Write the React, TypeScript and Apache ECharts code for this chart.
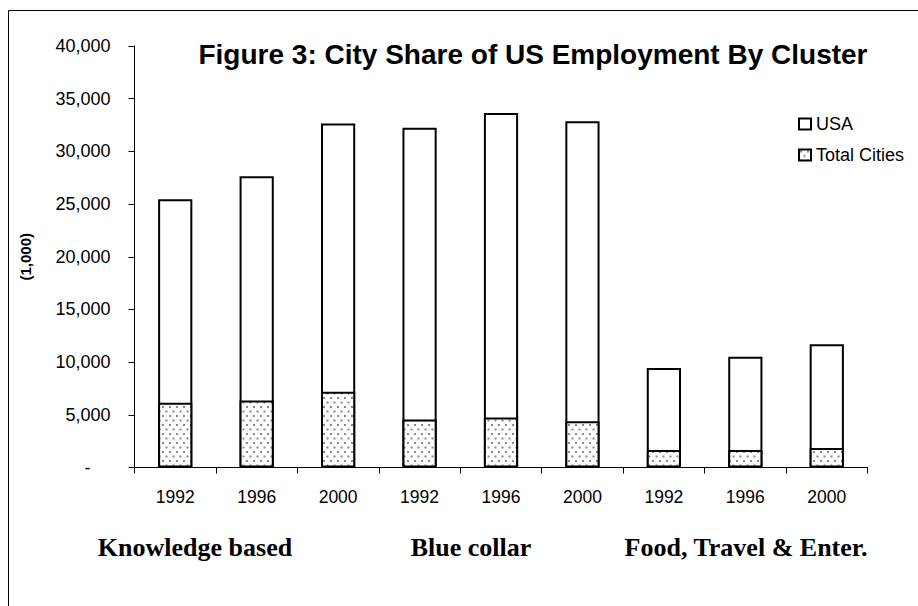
import React, { useEffect, useRef } from "react";
import * as echarts from "echarts";

const categories = ["1992", "1996", "2000", "1992", "1996", "2000", "1992", "1996", "2000"];
const usaValues = [25450, 27650, 32650, 32250, 33650, 32850, 9450, 10500, 11700];
const citiesValues = [6150, 6350, 7200, 4550, 4750, 4400, 1650, 1650, 1850];
const groupLabels = ["Knowledge based", "Blue collar", "Food, Travel & Enter."];
const seriesNames = ["USA", "Total Cities"];
const titleText = "Figure 3: City Share of US Employment By Cluster";
const yAxisName = "(1,000)";

function makeDots(): HTMLCanvasElement {
  const c = document.createElement("canvas");
  c.width = 7;
  c.height = 9;
  const ctx = c.getContext("2d")!;
  ctx.fillStyle = "#ffffff";
  ctx.fillRect(0, 0, 7, 9);
  ctx.fillStyle = "#8a8a8a";
  ctx.fillRect(1, 1, 2, 2);
  ctx.fillRect(4.5, 5.5, 2, 2);
  return c;
}

export default function App() {
  const ref = useRef<HTMLDivElement>(null);
  useEffect(() => {
    document.body.style.margin = "0";
    const chart = echarts.init(ref.current!, undefined, { renderer: "svg" });
    const dots = makeDots();
    const sans = "Liberation Sans";
    const groupX = [195, 471, 746];
    chart.setOption({
      animation: false,
      backgroundColor: "#ffffff",
      grid: { left: 134.5, right: 50.5, top: 46, bottom: 138.5, containLabel: false },
      legend: {
        orient: "vertical",
        left: 793,
        top: 110,
        itemWidth: 12,
        itemHeight: 11,
        itemGap: 13,
        icon: "rect",
        data: seriesNames,
        textStyle: { fontFamily: sans, fontSize: 18, color: "#000" },
      },
      xAxis: {
        type: "category",
        data: categories,
        axisLine: { lineStyle: { color: "#000", width: 1 } },
        axisTick: { show: true, length: 6, interval: 0, lineStyle: { color: "#000" } },
        axisLabel: { fontFamily: sans, fontSize: 17.5, color: "#000", margin: 20, interval: 0 },
      },
      yAxis: {
        type: "value",
        min: 0,
        max: 40000,
        interval: 5000,
        name: yAxisName,
        nameLocation: "middle",
        nameGap: 102,
        nameRotate: 90,
        nameTextStyle: { fontFamily: sans, fontSize: 15, fontWeight: "bold", color: "#000" },
        splitLine: { show: false },
        axisLine: { show: true, lineStyle: { color: "#000", width: 1 } },
        axisTick: { show: true, length: 6, lineStyle: { color: "#000" } },
        axisLabel: {
          fontFamily: sans,
          fontSize: 18,
          color: "#000",
          margin: 24,
          formatter: (v: number) => (v === 0 ? "{d|-}" : v.toLocaleString("en-US")),
          rich: { d: { fontFamily: sans, fontSize: 18, color: "#000", padding: [0, 20, 0, 0] } },
        },
      },
      series: [
        {
          name: seriesNames[0],
          type: "bar",
          data: usaValues,
          barWidth: "42%",
          barGap: "-100%",
          itemStyle: { color: "#ffffff", borderColor: "#000", borderWidth: 2 },
        },
        {
          name: seriesNames[1],
          type: "bar",
          data: citiesValues,
          barWidth: "42%",
          barGap: "-100%",
          itemStyle: {
            color: { image: dots, repeat: "repeat" },
            borderColor: "#000",
            borderWidth: 2,
          },
        },
      ],
      graphic: [
        {
          type: "rect",
          shape: { x: 8.5, y: 10.5, width: 1200, height: 1200 },
          style: { fill: "none", stroke: "#000", lineWidth: 1 },
          silent: true,
        },
        {
          type: "text",
          x: 533,
          y: 54,
          style: {
            text: titleText,
            font: `bold 28px "${sans}"`,
            fill: "#000",
            textAlign: "center",
            textVerticalAlign: "middle",
          },
        },
        ...groupLabels.map((t, i) => ({
          type: "text",
          x: groupX[i],
          y: 547,
          style: {
            text: t,
            font: 'bold 26px "Liberation Serif"',
            fill: "#000",
            textAlign: "center",
            textVerticalAlign: "middle",
          },
        })),
      ],
    });
    return () => chart.dispose();
  }, []);
  return <div ref={ref} style={{ width: 918, height: 606 }} />;
}
